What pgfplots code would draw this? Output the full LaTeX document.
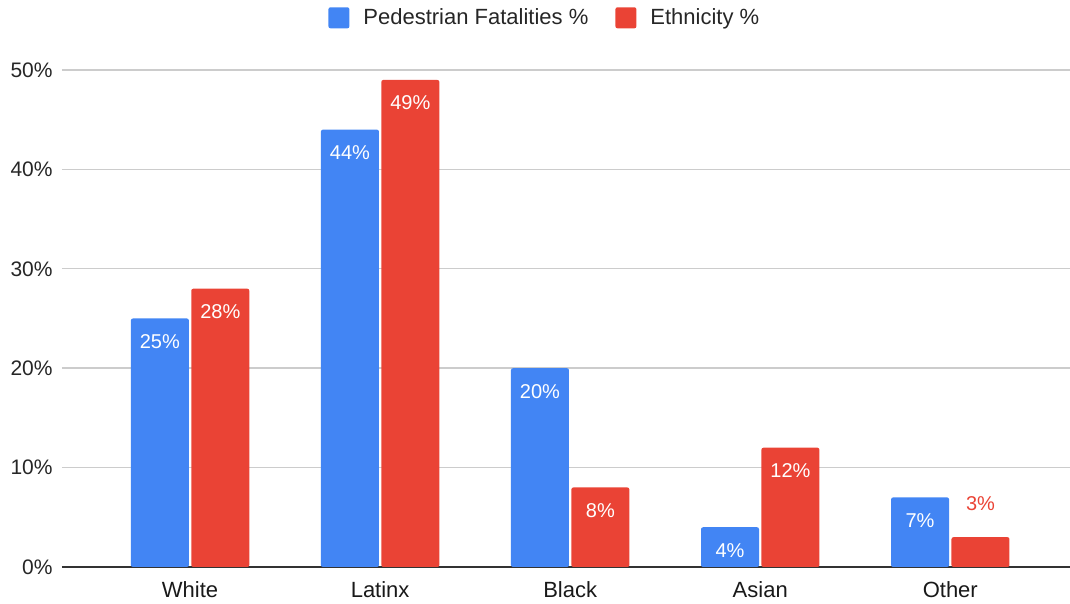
\documentclass[border=0pt]{standalone}
\usepackage{pgfplots}
\pgfplotsset{compat=1.18}
\usepackage{pgfplotstable}
\usepackage{fontspec}
\setmainfont{Liberation Sans}

\definecolor{gblue}{HTML}{4285F4}
\definecolor{gred}{HTML}{EA4335}
\definecolor{gridgray}{HTML}{CCCCCC}
\definecolor{axisdark}{HTML}{333333}

% share of pedestrian fatalities vs. share of population, by ethnicity
% lift: extra offset of a value label set above a short bar
\pgfplotstableread{
x fatal eth lift
0 25 28 0
1 44 49 0
2 20 8 0
3 4 12 0
4 7 3 28.5
}\datatable

\begin{document}
\begin{tikzpicture}
\begin{axis}[
  scale only axis,
  width=504pt, height=248.5pt,
  xmin=-0.674, xmax=4.63,
  ymin=0, ymax=50,
  ybar=1.2pt, bar width=29pt,
  /pgf/number format/assume math mode=true,
  axis x line*=bottom,
  axis y line*=left,
  x axis line style={axisdark, line width=0.8pt, -},
  y axis line style={draw=none},
  tick style={draw=none},
  major tick length=0pt,
  ytick={0,10,20,30,40,50},
  yticklabel={\pgfmathprintnumber{\tick}\%},
  yticklabel style={anchor=east, inner sep=0pt, xshift=-4.5pt,
    font=\fontsize{10.5}{12}\selectfont, text=black!85},
  xtick={0,1,2,3,4},
  xticklabels={White,Latinx,Black,Asian,Other},
  xticklabel style={anchor=base, inner sep=0pt, yshift=-15.5pt,
    font=\fontsize{11}{13}\selectfont, text=black!90},
  ymajorgrids,
  grid style={gridgray, line width=0.7pt},
  legend columns=2,
  legend style={at={(0.48,1.105)}, anchor=center, draw=none, fill=none,
    font=\fontsize{11}{13}\selectfont, text=black!85,
    /tikz/every odd column/.append style={column sep=5pt},
    /tikz/every even column/.append style={column sep=11.5pt}},
  legend image code/.code={\fill[#1, rounded corners=1pt] (0pt,-5.25pt) rectangle (10.5pt,5.25pt);},
  nodes near coords={\pgfmathprintnumber{\pgfplotspointmeta}\%},
  every node near coord/.append style={font=\fontsize{10}{12}\selectfont,
    text=white, anchor=center, yshift=-11.5pt},
]
\addplot[fill=gblue, draw=none, rounded corners=1pt] table[x=x, y=fatal] {\datatable};
\addplot[fill=gred, draw=none, rounded corners=1pt,
  visualization depends on={\thisrow{lift} \as \lift},
  every node near coord/.append style={yshift=\lift pt},
  nodes near coords={\ifdim\lift pt>1pt
      \textcolor{gred}{\pgfmathprintnumber{\pgfplotspointmeta}\%}%
    \else
      \pgfmathprintnumber{\pgfplotspointmeta}\%%
    \fi}]
  table[x=x, y=eth] {\datatable};
\legend{Pedestrian Fatalities \%, Ethnicity \%}
\coordinate (bl) at (rel axis cs:0,0);
\coordinate (tr) at (rel axis cs:1,1);
\end{axis}
\pgfresetboundingbox
\path[use as bounding box] ([shift={(-31pt,-18.5pt)}]bl) rectangle ([shift={(0pt,35pt)}]tr);
\end{tikzpicture}
\end{document}
